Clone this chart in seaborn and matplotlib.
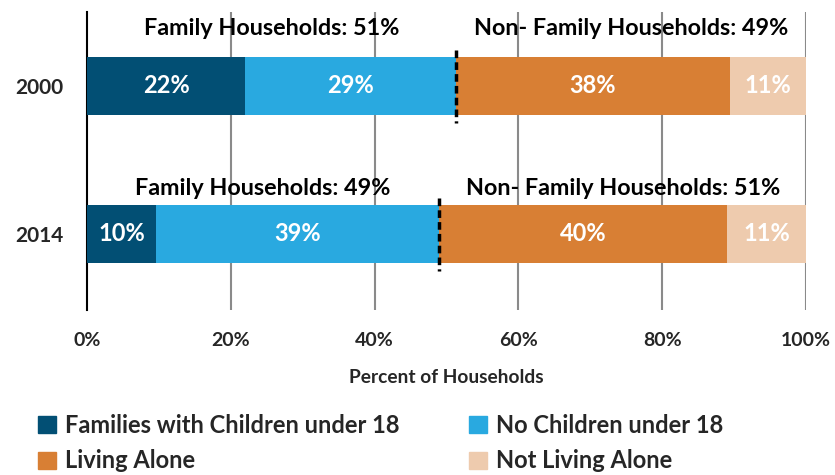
import numpy as np
import pandas as pd
import matplotlib
matplotlib.use("Agg")
import matplotlib.pyplot as plt
from matplotlib.patches import Patch
import seaborn as sns

years = ["2000", "2014"]
series = ["Families with Children under 18", "No Children under 18",
          "Living Alone", "Not Living Alone"]
with_children = [22.0, 9.6]
no_children = [29.3, 39.4]
living_alone = [38.1, 40.0]
not_alone = [10.6, 11.0]
family_totals = [51, 49]
nonfamily_totals = [49, 51]
xticks = [0, 20, 40, 60, 80, 100]
xtick_labels = ["0%", "20%", "40%", "60%", "80%", "100%"]
colors = ["#024f74", "#29a9e0", "#d87f34", "#eecbae"]

sns.set_theme(style="white")
plt.rcParams["font.family"] = ["Lato", "DejaVu Sans"]

fig = plt.figure(figsize=(8.35, 4.75), dpi=100)
ax = fig.add_axes([87/835, 1-310/475, (806-87)/835, (310-12)/475])

vals = np.array([with_children, no_children, living_alone, not_alone])
cum = np.cumsum(vals, axis=0)
df = pd.DataFrame({"year": years})
for i in reversed(range(4)):
    df["v"] = cum[i]
    sns.barplot(data=df, x="v", y="year", orient="h", color=colors[i],
                width=0.39, saturation=1, ax=ax, zorder=3, linewidth=0)

for j in range(2):
    left = 0
    for i in range(4):
        w = vals[i][j]
        ax.text(left + w/2, j, f"{round(w):.0f}%", ha="center", va="center",
                color="white", fontsize=17, fontweight="bold", zorder=5)
        left += w
    b = cum[1][j]
    ax.plot([b, b], [j-0.24, j+0.25], color="black", lw=2.5,
            ls=(0, (2.2, 1.2)), zorder=6)

label_y = [-0.39, 0.69]
for j in range(2):
    b = cum[1][j]
    ax.text(b/2, label_y[j], f"Family Households: {family_totals[j]}%",
            ha="center", va="center", fontsize=16.8, fontweight="bold",
            color="black", zorder=6)
    ax.text(b + (100-b)/2, label_y[j],
            f"Non- Family Households: {nonfamily_totals[j]}%",
            ha="center", va="center", fontsize=16.8, fontweight="bold",
            color="black", zorder=6)

ax.set_xlim(0, 100)
ax.set_ylim(1.514, -0.5)
ax.set_xticks(xticks)
ax.set_xticklabels(xtick_labels, fontsize=14, fontweight="bold")
ax.tick_params(axis="x", length=0, pad=16)
ax.tick_params(axis="y", length=0, pad=17, labelsize=15)
for t in ax.get_yticklabels():
    t.set_fontweight("bold")
ax.set_ylabel("")
ax.set_xlabel("Percent of Households", fontsize=13.8, fontweight="bold",
              labelpad=14)
for x in xticks[1:]:
    ax.axvline(x, color="#8a8a8a", lw=1.5, zorder=1)
for s in ["top", "right", "bottom"]:
    ax.spines[s].set_visible(False)
ax.spines["left"].set_color("black")
ax.spines["left"].set_linewidth(1.5)

col1 = [Patch(color=colors[0], label=series[0]),
        Patch(color=colors[2], label=series[2])]
col2 = [Patch(color=colors[1], label=series[1]),
        Patch(color=colors[3], label=series[3])]
for hs, x0 in [(col1, 38), (col2, 469)]:
    fig.legend(handles=hs, ncol=1, loc="center left",
               bbox_to_anchor=(x0/835, 1-443/475), frameon=False,
               prop={"size": 17, "weight": "bold"},
               handlelength=0.76, handleheight=0.72, handletextpad=0.38,
               labelspacing=0.55, borderpad=0, borderaxespad=0)

fig.savefig("out.png", dpi=100)
